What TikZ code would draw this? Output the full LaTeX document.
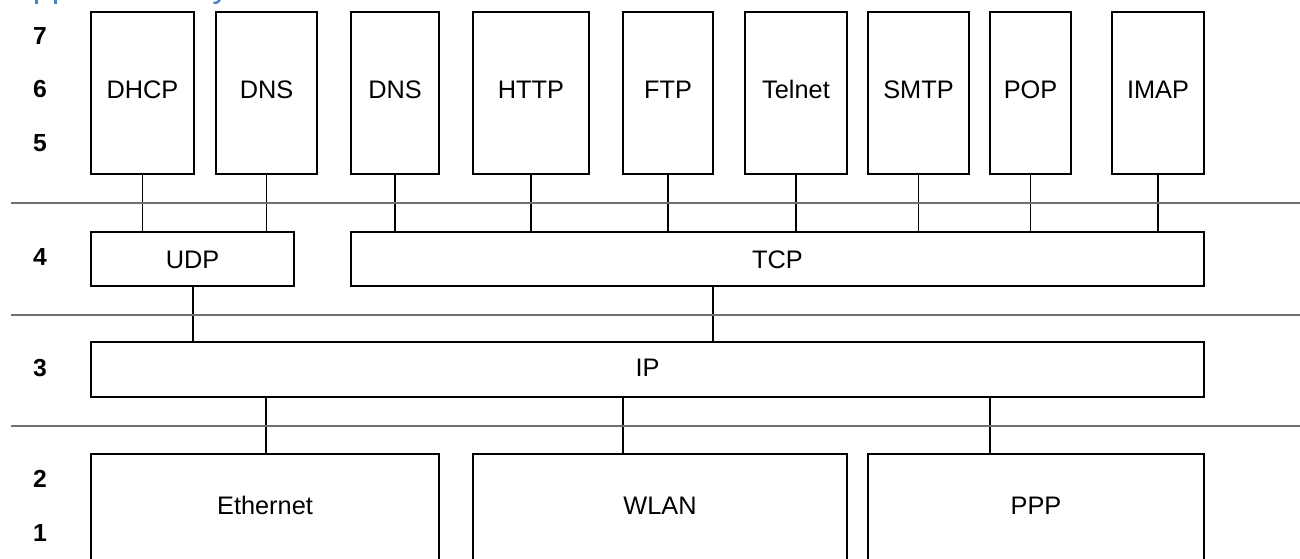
\documentclass[tikz,border=0pt]{standalone}
\usepackage{fontspec}
\setmainfont{Liberation Sans}
\usetikzlibrary{fit}
\definecolor{sepgray}{RGB}{112,112,112}
\definecolor{headblue}{RGB}{68,130,196}
\begin{document}
\begin{tikzpicture}[x=0.75pt,y=-0.75pt,
  box/.style={draw=black,line width=1.5pt,inner sep=0pt},
  boxtext/.style={font=\fontsize{19}{22}\selectfont,inner sep=0pt,anchor=center,
                  text height=13.6pt,text depth=0pt},
  wire/.style={draw=black,line width=1.1pt},
  sep/.style={draw=sepgray,line width=1.5pt},
  lnum/.style={font=\fontsize{18.5}{21}\selectfont\bfseries,anchor=center,inner sep=0pt,
               text height=13.2pt,text depth=0pt}]
\useasboundingbox (0,0) rectangle (1300,558);
\begin{scope}
\clip (0,0) rectangle (1300,558);
% heading above the stack (only its lower part lies inside the page)
\node[headblue,anchor=base west,inner sep=0pt,font=\fontsize{25.5}{30}\selectfont] (head) at (10,-3) {Application layer};

% layers 5-7: application protocols
\node[box,fit={(91,12) (194,174)}]    (dhcp)   {};
\node[box,fit={(216,12) (317,174)}]   (dnsu)   {};
\node[box,fit={(351,12) (439,174)}]   (dnst)   {};
\node[box,fit={(473,12) (589,174)}]   (http)   {};
\node[box,fit={(623,12) (713,174)}]   (ftp)    {};
\node[box,fit={(745,12) (847,174)}]   (telnet) {};
\node[box,fit={(868,12) (969,174)}]   (smtp)   {};
\node[box,fit={(990,12) (1071,174)}]  (pop)    {};
\node[box,fit={(1112,12) (1204,174)}] (imap)   {};
\foreach \p/\t in {dhcp/DHCP,dnsu/DNS,dnst/DNS,http/HTTP,ftp/FTP,telnet/Telnet,smtp/SMTP,pop/POP,imap/IMAP}
  \node[boxtext] (\p-label) at ([yshift=3pt]\p.center) {\t};

% layer 4: transport
\node[box,fit={(91,232) (294,286)}]   (udp) {};
\node[box,fit={(351,232) (1204,286)}] (tcp) {};
\node[boxtext] (udp-label) at (udp.center) {UDP};
\node[boxtext] (tcp-label) at (tcp.center) {TCP};

% layer 3: network
\node[box,fit={(91,342) (1204,397)}] (ip) {};
\node[boxtext] (ip-label) at ([yshift=1.5pt]ip.center) {IP};

% layers 1-2: link
\node[box,fit={(91,454) (439,560)}]   (eth)  {};
\node[box,fit={(473,454) (847,560)}]  (wlan) {};
\node[box,fit={(868,454) (1204,560)}] (ppp)  {};
\foreach \p/\t in {eth/Ethernet,wlan/WLAN,ppp/PPP}
  \node[boxtext] (\p-label) at ([yshift=1pt]\p.center) {\t};

% connections between the layers
\foreach \p in {dhcp,dnsu} \draw[wire] (\p.south) -- (\p.south |- udp.north);
\foreach \p in {dnst,http,ftp,telnet,smtp,pop,imap} \draw[wire] (\p.south) -- (\p.south |- tcp.north);
\coordinate (udpdown) at (193,286);
\coordinate (tcpdown) at (713,286);
\draw[wire] (udpdown) -- (udpdown |- ip.north);
\draw[wire] (tcpdown) -- (tcpdown |- ip.north);
\coordinate (ethup)  at (266,454);
\coordinate (wlanup) at (623,454);
\coordinate (pppup)  at (990,454);
\draw[wire] (ethup)  -- (ethup |- ip.south);
\draw[wire] (wlanup) -- (wlanup |- ip.south);
\draw[wire] (pppup)  -- (pppup |- ip.south);

% layer separators
\coordinate (s1a) at (11,203);  \coordinate (s1b) at (1300,203);
\coordinate (s2a) at (11,315);  \coordinate (s2b) at (1300,315);
\coordinate (s3a) at (11,426);  \coordinate (s3b) at (1300,426);
\draw[sep] (s1a) -- (s1b);
\draw[sep] (s2a) -- (s2b);
\draw[sep] (s3a) -- (s3b);

% OSI layer numbers
\node[lnum] (n7) at (40,36)  {7};
\node[lnum] (n6) at (40,89)  {6};
\node[lnum] (n5) at (40,143) {5};
\node[lnum] (n4) at (40,257) {4};
\node[lnum] (n3) at (40,368) {3};
\node[lnum] (n2) at (40,479) {2};
\node[lnum] (n1) at (40,533) {1};
\end{scope}
\end{tikzpicture}
\end{document}
